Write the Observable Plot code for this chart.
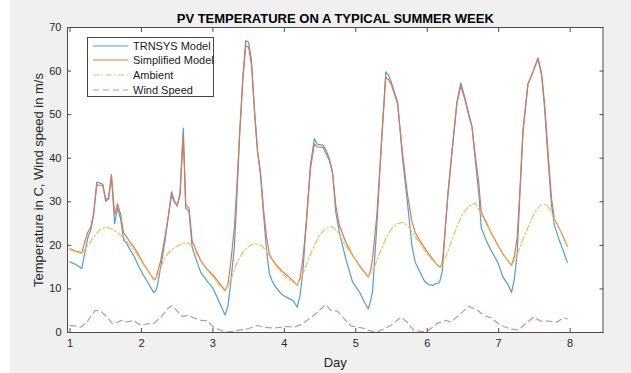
<!DOCTYPE html>
<html>
<head>
<meta charset="utf-8">
<script src="https://cdn.jsdelivr.net/npm/d3@7"></script>
<script src="https://cdn.jsdelivr.net/npm/@observablehq/plot@0.6"></script>
<style>
html, body { margin: 0; padding: 0; background: #ffffff; }
#wrap { position: relative; width: 621px; height: 373px; margin-left: 10px; background: #f0f0f0; overflow: hidden;
  font-family: "Liberation Sans", Arial, Helvetica, sans-serif; }
#legend { position: absolute; left: 77px; top: 37px; width: 127px; height: 60px; box-sizing: border-box;
  background: #ffffff; border: 1px solid #444444; }
.lrow { position: absolute; left: 0; height: 14px; line-height: 14px; font-size: 11px; color: #1a1a1a; white-space: nowrap; }
.lrow svg { position: absolute; left: 5px; top: 0; }
.lrow span { position: absolute; left: 45px; top: 0; }
</style>
</head>
<body>
<div id="wrap"><div id="legend"></div></div>
<script>
// ---------- data ----------
const chartTitle = "PV TEMPERATURE ON A TYPICAL SUMMER WEEK";
const xLabel = "Day";
const yLabel = "Temperature in C, Wind speed in m/s";
const xTicks = [1, 2, 3, 4, 5, 6, 7, 8];
const yTicks = [0, 10, 20, 30, 40, 50, 60, 70];
const seriesNames = ["TRNSYS Model", "Simplified Model", "Ambient", "Wind Speed"];

// time (days) for the two model series
const tModel = [
  1.00, 1.08, 1.12, 1.165, 1.21, 1.25, 1.29, 1.33, 1.375, 1.42, 1.46, 1.50, 1.54, 1.58, 1.625, 1.665, 1.71, 1.75, 1.79, 1.83, 1.90, 1.96,
  2.04, 2.10, 2.17, 2.20, 2.22, 2.27, 2.33, 2.375, 2.42, 2.46, 2.50, 2.54, 2.585, 2.62, 2.665, 2.71, 2.75, 2.83, 2.92,
  3.00, 3.08, 3.17, 3.21, 3.25, 3.30, 3.33, 3.375, 3.42, 3.46, 3.50, 3.54, 3.585, 3.625, 3.665, 3.71, 3.75, 3.79, 3.83, 3.875, 3.96,
  4.04, 4.125, 4.18, 4.22, 4.26, 4.31, 4.365, 4.42, 4.46, 4.54, 4.585, 4.63, 4.675, 4.72, 4.77, 4.86, 4.955,
  5.05, 5.12, 5.175, 5.21, 5.235, 5.295, 5.365, 5.42, 5.46, 5.50, 5.585, 5.655, 5.725, 5.785, 5.83, 5.88, 5.96,
  6.02, 6.08, 6.13, 6.16, 6.18, 6.21, 6.23, 6.29, 6.345, 6.415, 6.47, 6.53, 6.585, 6.625, 6.67, 6.72, 6.756, 6.835, 6.905, 6.99,
  7.06, 7.13, 7.18, 7.22, 7.26, 7.29, 7.34, 7.41, 7.48, 7.55, 7.60, 7.643, 7.69, 7.74, 7.78, 7.85, 7.91, 7.96
];
const trnsys = [
  16.2, 15.6, 15.2, 14.7, 18.5, 21.8, 23.5, 26.9, 34.5, 34.3, 34.0, 30.1, 30.6, 35.8, 25.0, 28.6, 26.0, 21.2, 20.5, 19.3, 17.4, 15.2,
  12.8, 11.2, 9.2, 9.6, 10.5, 15.0, 21.0, 26.5, 32.3, 30.3, 29.0, 32.0, 46.9, 28.5, 27.8, 19.5, 17.5, 13.8, 11.8,
  10.2, 7.3, 4.0, 6.0, 11.5, 19.5, 29.0, 45.5, 59.0, 67.0, 66.6, 62.5, 50.5, 41.5, 36.3, 27.0, 19.0, 13.5, 11.8, 10.5, 8.8,
  8.0, 7.3, 5.8, 8.5, 14.0, 26.0, 38.4, 44.5, 43.2, 43.0, 41.8, 39.9, 36.8, 27.6, 23.0, 16.9, 11.6,
  9.3, 7.0, 5.4, 7.5, 9.5, 24.6, 45.2, 59.8, 59.0, 57.3, 52.9, 39.9, 29.5, 20.0, 16.2, 14.5, 11.8,
  11.0, 10.8, 11.3, 11.3, 12.0, 14.0, 18.4, 32.2, 41.4, 52.9, 57.3, 53.7, 50.0, 47.5, 39.9, 32.2, 24.0, 20.8, 18.5, 16.0,
  12.7, 11.0, 9.2, 12.3, 18.4, 29.2, 46.0, 57.1, 59.8, 62.9, 59.0, 51.4, 39.9, 29.2, 24.6, 21.1, 18.5, 16.1
];
const simplified = [
  19.2, 18.7, 18.5, 18.2, 21.0, 23.0, 24.2, 27.3, 33.9, 33.8, 33.6, 30.5, 30.9, 36.3, 27.0, 29.6, 27.0, 22.9, 22.0, 21.0, 19.5, 17.8,
  15.5, 14.0, 12.2, 12.3, 13.5, 16.5, 22.0, 26.5, 31.5, 30.0, 29.2, 31.5, 45.3, 29.2, 28.6, 21.0, 19.5, 16.5, 14.5,
  13.2, 11.5, 9.6, 11.0, 16.0, 24.0, 32.0, 46.0, 58.0, 65.8, 65.5, 61.5, 50.0, 41.5, 37.0, 28.0, 22.0, 18.0, 16.8, 15.8, 14.2,
  13.1, 11.8, 10.8, 12.5, 17.0, 25.5, 37.5, 43.3, 42.6, 42.5, 41.0, 39.5, 36.5, 29.2, 24.6, 20.7, 17.7,
  15.4, 13.9, 12.7, 14.5, 17.0, 27.0, 45.0, 58.6, 58.0, 56.8, 52.5, 41.0, 31.5, 25.5, 23.0, 21.5, 19.5,
  18.0, 16.8, 15.7, 15.2, 14.9, 16.0, 19.5, 31.5, 41.0, 52.5, 56.6, 53.3, 49.5, 47.3, 41.0, 34.5, 27.6, 25.0, 22.5, 20.0,
  18.0, 16.5, 15.4, 17.5, 22.0, 30.5, 46.5, 57.0, 59.8, 63.0, 59.5, 52.5, 41.5, 30.7, 26.1, 23.8, 21.7, 19.8
];

// ambient temperature
const tAmbient = [
  1.00, 1.08, 1.16, 1.25, 1.33, 1.42, 1.50, 1.58, 1.67, 1.75, 1.83, 1.92,
  2.00, 2.08, 2.18, 2.25, 2.33, 2.42, 2.50, 2.58, 2.67, 2.75, 2.83, 2.92,
  3.00, 3.08, 3.17, 3.25, 3.33, 3.42, 3.50, 3.58, 3.67, 3.75, 3.83, 3.92,
  4.00, 4.08, 4.18, 4.25, 4.33, 4.42, 4.50, 4.58, 4.67, 4.75, 4.83, 4.92,
  5.00, 5.08, 5.17, 5.25, 5.33, 5.42, 5.50, 5.58, 5.67, 5.75, 5.83, 5.92,
  6.00, 6.08, 6.18, 6.25, 6.33, 6.42, 6.50, 6.58, 6.67, 6.75, 6.83, 6.92,
  7.00, 7.08, 7.18, 7.25, 7.33, 7.42, 7.50, 7.58, 7.67, 7.75, 7.83, 7.92, 7.96
];
const ambient = [
  19.0, 18.5, 18.1, 20.0, 21.9, 23.6, 24.2, 23.8, 22.9, 21.7, 20.2, 18.4,
  16.3, 14.3, 12.0, 13.9, 17.3, 19.0, 19.8, 20.5, 20.4, 18.8, 16.3, 14.3,
  12.8, 11.1, 9.5, 11.9, 15.8, 18.4, 19.8, 20.4, 20.1, 18.7, 16.5, 14.6,
  13.0, 12.0, 10.9, 13.0, 16.5, 20.0, 22.5, 23.9, 24.3, 23.0, 20.6, 18.5,
  16.5, 14.5, 12.8, 14.5, 18.0, 21.5, 23.8, 25.0, 25.3, 24.0, 22.0, 20.0,
  18.0, 16.5, 14.9, 17.0, 20.5, 24.5, 27.3, 29.0, 29.7, 27.3, 24.8, 22.3,
  19.8, 17.6, 15.4, 17.5, 21.0, 24.5, 27.5, 29.2, 29.4, 27.2, 24.4, 21.6, 19.8
];

// wind speed
const tWind = [
  1.00, 1.07, 1.147, 1.24, 1.30, 1.357, 1.43, 1.52, 1.59, 1.65, 1.73, 1.80, 1.89, 1.99,
  2.08, 2.17, 2.27, 2.36, 2.43, 2.50, 2.57, 2.66, 2.71, 2.83, 2.92,
  3.01, 3.11, 3.20, 3.29, 3.39, 3.48, 3.62, 3.71, 3.85, 3.95,
  4.04, 4.13, 4.23, 4.32, 4.41, 4.51, 4.58, 4.65, 4.74, 4.83, 4.93,
  5.04, 5.10, 5.18, 5.28, 5.39, 5.51, 5.63, 5.72, 5.81, 5.93,
  6.02, 6.14, 6.26, 6.33, 6.44, 6.58, 6.70, 6.79, 6.89,
  7.03, 7.17, 7.28, 7.40, 7.49, 7.59, 7.70, 7.82, 7.91, 7.96
];
const windSpeed = [
  1.6, 1.5, 1.2, 2.4, 4.0, 5.1, 4.9, 3.5, 2.1, 2.3, 2.8, 2.4, 2.8, 1.6,
  2.0, 2.1, 3.5, 5.4, 6.2, 4.9, 3.7, 3.9, 3.5, 2.8, 2.7,
  1.2, 0.5, 0.1, 0.3, 0.6, 0.8, 1.6, 1.2, 1.0, 1.2,
  1.4, 1.2, 1.8, 2.8, 3.9, 5.4, 6.4, 5.1, 4.9, 3.3, 1.5,
  1.2, 1.0, 0.5, 0.0, 0.8, 1.8, 3.5, 2.4, 0.5, 0.2,
  0.5, 2.1, 2.8, 2.4, 3.9, 6.0, 5.2, 3.9, 3.4,
  1.6, 0.8, 0.6, 2.4, 3.5, 2.6, 2.6, 2.4, 3.4, 3.1
];

// ---------- styles ----------
const colors = ["#4c9edc", "#e3764a", "#f0c04e", "#c08dd2"];
const dashes = [null, null, "6,2.5,1.5,2.5", "6,4"];
const ink = "#262626";

const series = [
  {t: tModel, v: trnsys},
  {t: tModel, v: simplified},
  {t: tAmbient, v: ambient},
  {t: tWind, v: windSpeed}
];

const lineMarks = series.map((s, i) => Plot.line(
  s.t.map((d, j) => ({day: d, value: s.v[j]})),
  Object.assign({x: "day", y: "value", stroke: colors[i], strokeWidth: 1.2, curve: "linear"},
    dashes[i] ? {strokeDasharray: dashes[i]} : {})
));

const chart = Plot.plot({
  width: 621,
  height: 373,
  marginLeft: 57,
  marginRight: 28.5,
  marginTop: 27,
  marginBottom: 41,
  style: {background: "transparent", fontFamily: "'Liberation Sans', Arial, Helvetica, sans-serif", fontSize: "11px", color: ink, overflow: "visible"},
  x: {domain: [0.965, 8.46], axis: null},
  y: {domain: [0, 70], axis: null},
  marks: [
    Plot.frame({fill: "#ffffff", stroke: null}),
    ...lineMarks,
    Plot.frame({stroke: "#4a4a4a", strokeWidth: 1}),
    Plot.axisX(xTicks, {anchor: "bottom", tickSize: -4, tickFormat: () => "", label: null, stroke: "#4a4a4a"}),
    Plot.axisX(xTicks, {anchor: "top", tickSize: -4, tickFormat: () => "", label: null, stroke: "#4a4a4a"}),
    Plot.axisY(yTicks, {anchor: "left", tickSize: -4, tickFormat: () => "", label: null, stroke: "#4a4a4a"}),
    Plot.axisY(yTicks, {anchor: "right", tickSize: -4, tickFormat: () => "", label: null, stroke: "#4a4a4a"}),
    Plot.axisX(xTicks, {anchor: "bottom", tickSize: 0, tickPadding: 7, label: null, fill: ink, fontSize: 11}),
    Plot.axisY(yTicks, {anchor: "left", tickSize: 0, tickPadding: 6, label: null, fill: ink, fontSize: 11}),
    Plot.text([chartTitle], {text: d => d, frameAnchor: "top", dy: -9, fontSize: 13, fontWeight: "bold", fill: "#000", lineAnchor: "middle"}),
    Plot.text([xLabel], {text: d => d, frameAnchor: "bottom", dy: 30, fontSize: 13, fill: ink, lineAnchor: "middle"}),
    Plot.text([yLabel], {text: d => d, frameAnchor: "left", dx: -29, rotate: -90, fontSize: 13, fill: ink, lineAnchor: "middle", textAnchor: "middle"})
  ]
});
document.getElementById("wrap").insertBefore(chart, document.getElementById("legend"));

// legend
const legend = document.getElementById("legend");
seriesNames.forEach((name, i) => {
  const row = document.createElement("div");
  row.className = "lrow";
  row.style.top = (0.5 + i * 14.8) + "px";
  row.style.width = "125px";
  const dashAttr = dashes[i] ? ` stroke-dasharray="${dashes[i]}"` : "";
  row.innerHTML = `<svg width="36" height="14"><line x1="0" x2="35" y1="7" y2="7" stroke="${colors[i]}" stroke-width="1.2"${dashAttr}/></svg><span>${name}</span>`;
  legend.appendChild(row);
});
</script>
</body>
</html>
